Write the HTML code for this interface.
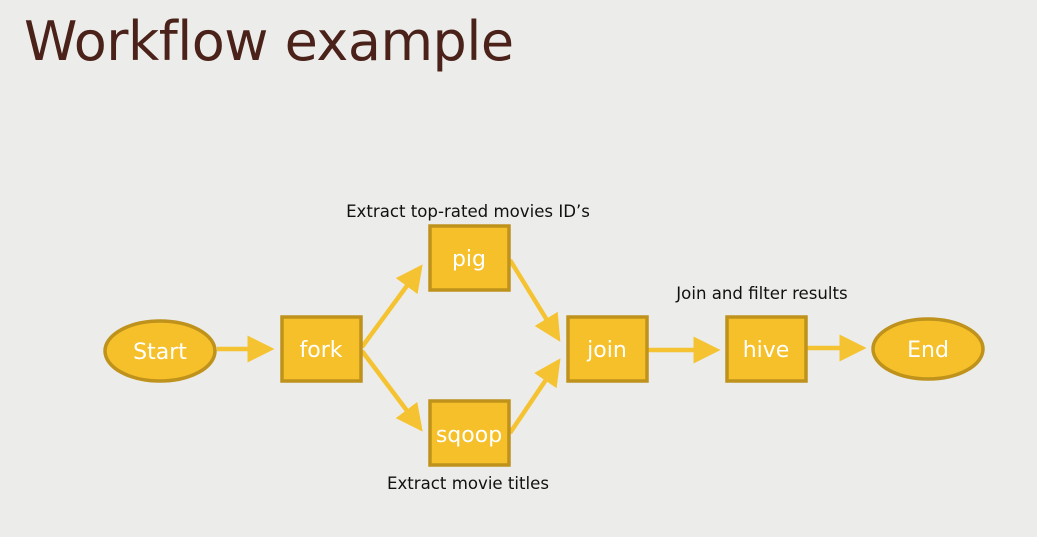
<!DOCTYPE html>
<html><head><style>
html,body{margin:0;padding:0;background:#ececea;}
body{width:1037px;height:537px;overflow:hidden;position:relative;font-family:"DejaVu Sans","Liberation Sans",sans-serif;}
.t{position:absolute;left:24px;top:10px;font-size:54px;color:#4a2219;letter-spacing:-0.5px;}
</style></head><body>
<div class="t">Workflow example</div>
<svg width="1037" height="537" style="position:absolute;left:0;top:0">
<defs><marker id="a" markerWidth="6" markerHeight="6" refX="5" refY="3" orient="auto" markerUnits="strokeWidth"><path d="M0,0 L6,3 L0,6 z" fill="#f5c332"/></marker></defs>
<g stroke="#f5c332" stroke-width="4.5" fill="none" marker-end="url(#a)">
<line x1="217" y1="349" x2="270" y2="349"/>
<line x1="362" y1="347" x2="420" y2="268"/>
<line x1="362" y1="351" x2="420" y2="428"/>
<line x1="510" y1="260" x2="558" y2="338"/>
<line x1="510" y1="433" x2="558" y2="362"/>
<line x1="648" y1="350" x2="716" y2="350"/>
<line x1="807" y1="348" x2="862" y2="348"/>
</g>
<g fill="#f6c02a" stroke="#bf921c" stroke-width="3.5">
<ellipse cx="160" cy="351" rx="55" ry="30"/>
<rect x="282" y="317" width="79" height="64"/>
<rect x="430" y="226" width="79" height="64"/>
<rect x="430" y="401" width="79" height="64"/>
<rect x="568" y="317" width="79" height="64"/>
<rect x="727" y="317" width="79" height="64"/>
<ellipse cx="928" cy="349" rx="55" ry="30"/>
</g>
<g fill="#fff" font-size="22" text-anchor="middle" font-family="DejaVu Sans, Liberation Sans, sans-serif">
<text x="160" y="359">Start</text>
<text x="321" y="357">fork</text>
<text x="469" y="266">pig</text>
<text x="469" y="442">sqoop</text>
<text x="607" y="357">join</text>
<text x="766" y="357">hive</text>
<text x="928" y="357">End</text>
</g>
<g fill="#111" font-size="16.6" text-anchor="middle" font-family="DejaVu Sans, Liberation Sans, sans-serif">
<text x="468" y="217">Extract top-rated movies ID’s</text>
<text x="468" y="489">Extract movie titles</text>
<text x="762" y="299">Join and filter results</text>
</g>
</svg>
</body></html>
